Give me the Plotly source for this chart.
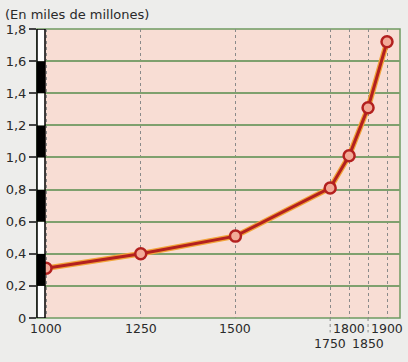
import plotly.graph_objects as go

years = [1000, 1250, 1500, 1750, 1800, 1850, 1900]
population = [0.31, 0.40, 0.51, 0.81, 1.01, 1.31, 1.72]
y_ticks = [0, 0.2, 0.4, 0.6, 0.8, 1.0, 1.2, 1.4, 1.6, 1.8]
y_tick_text = ["0", "0,2", "0,4", "0,6", "0,8", "1,0", "1,2", "1,4", "1,6", "1,8"]
x_labels = ["1000", "1250", "1500", "1750", "1800", "1850", "1900"]
x_label_lowered = [False, False, False, True, False, True, False]
title_text = "(En miles de millones)"

FONT = "DejaVu Sans"
RED = "#b3201f"
TXT = "#2a2a2a"

fig = go.Figure()
# orange glow under the line
fig.add_trace(go.Scatter(x=years, y=population, mode="lines",
                         line=dict(color="#f2a43a", width=5.5),
                         hoverinfo="skip", showlegend=False))
fig.add_trace(go.Scatter(x=years, y=population, mode="lines+markers",
                         line=dict(color=RED, width=3),
                         marker=dict(size=11, color="#f2aa98",
                                     line=dict(color=RED, width=2.5)),
                         showlegend=False))

shapes = []
# plot border (green)
shapes.append(dict(type="rect", xref="x domain", yref="y domain", x0=0, x1=1, y0=0, y1=1,
                   line=dict(color="#6f9a62", width=1.5), layer="below"))
# left striped bar
bw = 8 / 363
for i in range(len(y_ticks) - 1):
    fill = "black" if (i % 2 == 1) else "white"
    shapes.append(dict(type="rect", xref="x domain", yref="y",
                       x0=0, x1=bw, y0=y_ticks[i], y1=y_ticks[i + 1],
                       fillcolor=fill, line=dict(width=0), layer="above"))
shapes.append(dict(type="rect", xref="x domain", yref="y", x0=0, x1=bw,
                   y0=y_ticks[0], y1=y_ticks[-1], line=dict(color="black", width=1.5),
                   fillcolor="rgba(0,0,0,0)", layer="above"))
# extended dashed lines to lowered labels
for yr, low in zip(years, x_label_lowered):
    if low:
        shapes.append(dict(type="line", xref="x", yref="paper", x0=yr, x1=yr,
                           y0=0, y1=-0.05, line=dict(color="#888888", width=1, dash="dot")))

annotations = []
for yr, lab, low in zip(years, x_labels, x_label_lowered):
    annotations.append(dict(x=yr, xref="x", y=-(25 if low else 10) / 289, yref="paper",
                            text=lab, showarrow=False, xanchor="center", yanchor="middle",
                            font=dict(family=FONT, size=12.5, color=TXT)))
annotations.append(dict(x=-34 / 363, xref="paper", y=1 + 15 / 289, yref="paper",
                        text=title_text, showarrow=False, xanchor="left", yanchor="middle",
                        font=dict(family=FONT, size=13, color=TXT)))

fig.update_layout(
    width=408, height=362,
    margin=dict(l=37, r=8, t=29, b=44, autoexpand=False),
    paper_bgcolor="#ededeb",
    plot_bgcolor="#f8ddd4",
    shapes=shapes,
    annotations=annotations,
    xaxis=dict(range=[976.2, 1934.3], tickvals=years, showticklabels=False,
               showgrid=True, gridcolor="#8a8a8a", gridwidth=1, griddash="dot",
               zeroline=False, showline=False, ticks="", automargin=False),
    yaxis=dict(range=[0, 1.8], tickvals=y_ticks, ticktext=y_tick_text,
               showgrid=True, gridcolor="#7fa06e", gridwidth=1.5,
               zeroline=False, showline=False, ticks="outside", ticklen=7,
               tickcolor="#444444", tickwidth=1.5, automargin=False,
               tickfont=dict(family=FONT, size=13, color=TXT)),
)

fig.write_html("out.html", config={"displayModeBar": False},
               post_script="document.body.style.margin='0';document.body.style.overflow='hidden';")
